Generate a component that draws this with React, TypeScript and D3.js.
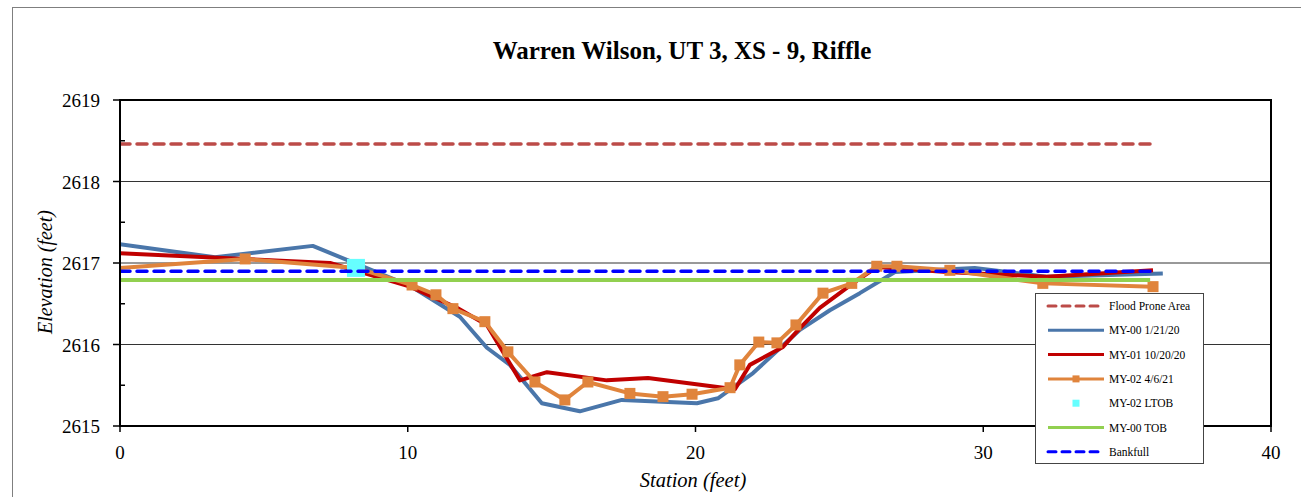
import React from "react";
import * as d3 from "d3";

const title = "Warren Wilson, UT 3, XS - 9, Riffle";
const xTicks = [0, 10, 20, 30, 40];
const yTicks = [2615, 2616, 2617, 2618, 2619];
const yMinorTicks = [2615.5, 2616.5, 2617.5, 2618.5];

const floodProne: [number, number][] = [[0, 2618.46], [35.9, 2618.46]];
const bankfull: [number, number][] = [[0, 2616.9], [35.9, 2616.9]];
const my00Tob: [number, number][] = [[0, 2616.79], [35.8, 2616.79]];
const my02Ltob: [number, number][] = [[8.2, 2616.94]];

const my00: [number, number][] = [
  [0, 2617.23], [3.3, 2617.07], [6.7, 2617.21], [10.08, 2616.72], [11.81, 2616.34],
  [12.75, 2615.96], [13.55, 2615.75], [14.66, 2615.28], [15.98, 2615.18], [17.44, 2615.32],
  [20.05, 2615.28], [20.78, 2615.34], [22.0, 2615.65], [23.63, 2616.18], [24.67, 2616.42],
  [25.71, 2616.63], [26.93, 2616.89], [29.7, 2616.94], [32.2, 2616.83], [36.24, 2616.87],
];

const my01: [number, number][] = [
  [0, 2617.12], [7.3, 2617.0], [10.08, 2616.71], [11.71, 2616.45], [12.75, 2616.24],
  [13.9, 2615.56], [14.84, 2615.66], [16.92, 2615.56], [18.35, 2615.59], [21.37, 2615.45],
  [21.89, 2615.75], [23.04, 2615.97], [23.63, 2616.2], [24.32, 2616.45], [25.47, 2616.75],
  [26.3, 2616.95], [28.73, 2616.89], [32.2, 2616.83], [35.9, 2616.91],
];

const my02: [number, number][] = [
  [-0.4, 2616.93], [4.35, 2617.05], [8.2, 2616.94], [10.15, 2616.73], [10.98, 2616.61],
  [11.57, 2616.44], [12.68, 2616.28], [13.48, 2615.91], [14.42, 2615.54], [15.46, 2615.32],
  [16.26, 2615.54], [17.72, 2615.4], [18.87, 2615.36], [19.88, 2615.39], [21.2, 2615.47],
  [21.54, 2615.75], [22.2, 2616.03], [22.83, 2616.02], [23.49, 2616.24], [24.43, 2616.63],
  [25.43, 2616.75], [26.3, 2616.96], [27.0, 2616.96], [28.84, 2616.91], [32.07, 2616.75],
  [35.9, 2616.71],
];

const legendItems = [
  "Flood Prone Area",
  "MY-00 1/21/20",
  "MY-01 10/20/20",
  "MY-02 4/6/21",
  "MY-02 LTOB",
  "MY-00 TOB",
  "Bankfull",
];

const FONT = "'Liberation Serif', 'Times New Roman', serif";

export default function App() {
  const W = 1301, H = 497;
  const L = 120, R = 1271, T = 100, B = 426;
  const x = d3.scaleLinear().domain([0, 40]).range([L, R]);
  const y = d3.scaleLinear().domain([2615, 2619]).range([B, T]);
  const line = d3.line<[number, number]>().x(d => x(d[0])).y(d => y(d[1]));

  const colors = {
    flood: "#BC4B48",
    my00: "#4A76AA",
    my01: "#C00000",
    my02: "#E0843C",
    ltob: "#66FFFF",
    tob: "#92D050",
    bank: "#0000FF",
  };

  const legX = 1035, legY = 293, legW = 168, legH = 170;
  const rowH = 24.3;
  const sx1 = 1048, sx2 = 1104;

  return (
    <svg width={W} height={H} style={{ position: "absolute", left: 0, top: 0, background: "#fff" }}>
      <defs>
        <clipPath id="plotClip">
          <rect x={L} y={T - 10} width={R - L} height={B - T + 20} />
        </clipPath>
      </defs>
      <rect x={0} y={0} width={W} height={H} fill="#fff" />
      <rect x={12.5} y={7.5} width={W + 20} height={H + 20} fill="none" stroke="#7f7f7f" strokeWidth={1} />

      <text x={682} y={59} textAnchor="middle" fontFamily={FONT} fontWeight="bold" fontSize={25}>
        {title}
      </text>

      {/* gridlines */}
      {yTicks.filter(t => t !== 2615 && t !== 2619).map(t => (
        <line key={"g" + t} x1={L} x2={R} y1={y(t)} y2={y(t)} stroke="#333" strokeWidth={1} />
      ))}

      {/* series */}
      <g clipPath="url(#plotClip)">
        <path d={line(floodProne) || ""} fill="none" stroke={colors.flood} strokeWidth={3.5} strokeDasharray="10,7" strokeLinecap="round" />
        <path d={line(my00) || ""} fill="none" stroke={colors.my00} strokeWidth={4} strokeLinejoin="round" />
        <path d={line(my01) || ""} fill="none" stroke={colors.my01} strokeWidth={4} strokeLinejoin="round" />
        <path d={line(my02) || ""} fill="none" stroke={colors.my02} strokeWidth={4} strokeLinejoin="round" />
        {my02.map((d, i) => (
          <rect key={"m" + i} x={x(d[0]) - 5.5} y={y(d[1]) - 5.5} width={11} height={11} fill={colors.my02} />
        ))}
        {my02Ltob.map((d, i) => (
          <rect key={"l" + i} x={x(d[0]) - 9} y={y(d[1]) - 9} width={18} height={18} fill={colors.ltob} />
        ))}
        <path d={line(my00Tob) || ""} fill="none" stroke={colors.tob} strokeWidth={4} />
        <path d={line(bankfull) || ""} fill="none" stroke={colors.bank} strokeWidth={3.5} strokeDasharray="10,7" strokeLinecap="round" />
      </g>

      {/* plot border */}
      <rect x={L} y={T} width={R - L} height={B - T} fill="none" stroke="#000" strokeWidth={2} />

      {/* y ticks */}
      {yTicks.map(t => (
        <g key={"y" + t}>
          <line x1={L - 7} x2={L} y1={y(t)} y2={y(t)} stroke="#000" strokeWidth={1.5} />
          <text x={100} y={y(t) + 7} textAnchor="end" fontFamily={FONT} fontSize={19}>{t}</text>
        </g>
      ))}
      {yMinorTicks.map(t => (
        <line key={"ym" + t} x1={L} x2={L + 5} y1={y(t)} y2={y(t)} stroke="#000" strokeWidth={1.5} />
      ))}

      {/* x ticks */}
      {xTicks.map(t => (
        <g key={"x" + t}>
          <line x1={x(t)} x2={x(t)} y1={B} y2={B + 6} stroke="#000" strokeWidth={1.5} />
          <text x={x(t)} y={459} textAnchor="middle" fontFamily={FONT} fontSize={19}>{t}</text>
        </g>
      ))}

      <text x={693} y={487} textAnchor="middle" fontFamily={FONT} fontStyle="italic" fontSize={20.5}>
        Station (feet)
      </text>
      <text transform={`translate(52,272) rotate(-90)`} textAnchor="middle" fontFamily={FONT} fontStyle="italic" fontSize={20}>
        Elevation (feet)
      </text>

      {/* legend */}
      <rect x={legX + 0.5} y={legY + 0.5} width={legW} height={legH} fill="#fff" stroke="#444" strokeWidth={1} />
      {legendItems.map((name, i) => {
        const cy = 306 + i * rowH;
        const mid = (sx1 + sx2) / 2;
        let sample: React.ReactNode = null;
        if (i === 0) sample = <line x1={sx1} x2={sx2} y1={cy} y2={cy} stroke={colors.flood} strokeWidth={3} strokeDasharray="8,6" strokeLinecap="round" />;
        else if (i === 1) sample = <line x1={sx1} x2={sx2} y1={cy} y2={cy} stroke={colors.my00} strokeWidth={3} />;
        else if (i === 2) sample = <line x1={sx1} x2={sx2} y1={cy} y2={cy} stroke={colors.my01} strokeWidth={3} />;
        else if (i === 3) sample = (
          <g>
            <line x1={sx1} x2={sx2} y1={cy} y2={cy} stroke={colors.my02} strokeWidth={3} />
            <rect x={mid - 3.5} y={cy - 3.5} width={7} height={7} fill={colors.my02} />
          </g>
        );
        else if (i === 4) sample = <rect x={mid - 3.5} y={cy - 3.5} width={7} height={7} fill={colors.ltob} />;
        else if (i === 5) sample = <line x1={sx1} x2={sx2} y1={cy} y2={cy} stroke={colors.tob} strokeWidth={3} />;
        else sample = <line x1={sx1} x2={sx2} y1={cy} y2={cy} stroke={colors.bank} strokeWidth={3} strokeDasharray="8,6" strokeLinecap="round" />;
        return (
          <g key={name}>
            {sample}
            <text x={1109} y={cy + 4} fontFamily={FONT} fontSize={11.5}>{name}</text>
          </g>
        );
      })}
    </svg>
  );
}
